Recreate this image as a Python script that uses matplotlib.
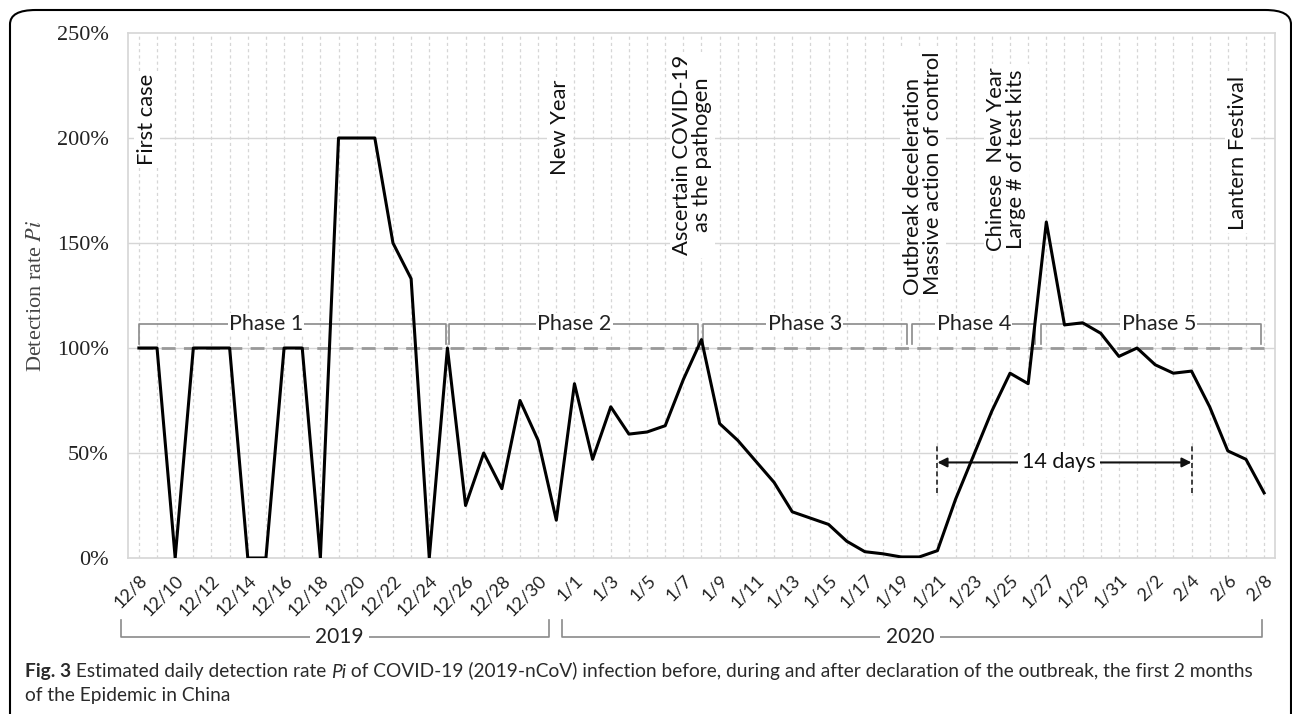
import numpy as np
import matplotlib.pyplot as plt
from matplotlib.patches import FancyBboxPatch

plt.rcParams['mathtext.fontset'] = 'stix'

# daily detection rate Pi (%), 12/8/2019 .. 2/8/2020
rate = [100, 100, 0, 100, 100, 100, 0, 0, 100, 100, 0, 200, 200, 200, 150, 133,
        0, 100, 25, 50, 33, 75, 56, 18, 83, 47, 72, 59, 60, 63, 85, 104,
        64, 56, 46, 36, 22, 19, 16, 8, 3, 2, 0.5, 0.5, 3.5, 28, 49, 70,
        88, 83, 160, 111, 112, 107, 96, 100, 92, 88, 89, 72, 51, 47, 31]

tick_labels = ['12/8', '12/10', '12/12', '12/14', '12/16', '12/18', '12/20',
               '12/22', '12/24', '12/26', '12/28', '12/30', '1/1', '1/3', '1/5',
               '1/7', '1/9', '1/11', '1/13', '1/15', '1/17', '1/19', '1/21',
               '1/23', '1/25', '1/27', '1/29', '1/31', '2/2', '2/4', '2/6', '2/8']

phase_names = ['Phase 1', 'Phase 2', 'Phase 3', 'Phase 4', 'Phase 5']
phase_start = [0, 17.1, 31.1, 42.6, 49.7]
phase_end = [16.9, 30.8, 42.3, 49.4, 61.85]
phase_label_x = [7, 24, 36.7, 46, 56.2]

events = ['First case', 'New Year', 'Ascertain COVID-19\nas the pathogen',
          'Outbreak deceleration\nMassive action of control',
          'Chinese  New Year\nLarge # of test kits', 'Lantern Festival']
event_x = [0.45, 23.2, 30.5, 43.2, 47.8, 60.55]
event_y = [209, 205, 192, 183, 190, 193]
event_align = ['center', 'center', 'center', 'left', 'center', 'center']

W, H = 1292, 714
fig = plt.figure(figsize=(W / 100, H / 100), dpi=100)
ax = fig.add_axes([128 / W, 1 - 558 / H, (1275 - 128) / W, (558 - 33) / H])

days = np.arange(len(rate))
sans = ['Lato', 'DejaVu Sans']
grid_c = '#d6d6d6'

# grid
for d in days:
    ax.axvline(d, color=grid_c, lw=0.9, ls=(0, (2.5, 2.5)), zorder=0)
for v in [50, 100, 150, 200]:
    ax.axhline(v, color=grid_c, lw=1, zorder=0)

ax.axhline(100, xmin=0.01, xmax=0.99, color='#999999', lw=2, ls=(0, (5, 3)), zorder=1)

# phases
for name, s, e, lx in zip(phase_names, phase_start, phase_end, phase_label_x):
    ax.plot([s, s, e, e], [102, 111.5, 111.5, 102], color='#8a8a8a', lw=1.2, zorder=2)
    ax.text(lx, 111.5, name, ha='center', va='center', fontsize=15.5, family=sans,
            color='#222222', bbox=dict(fc='white', ec='none', pad=1), zorder=3)

# events
for txt, x, y, al in zip(events, event_x, event_y, event_align):
    ax.text(x, y, txt, rotation=90, ha='center', va='center', multialignment=al,
            fontsize=15.8, family=sans, color='#111111', linespacing=1.0,
            bbox=dict(fc='white', ec='none', pad=2), zorder=3)

# 14 days
ax.plot([44, 44], [31, 55], color='#222222', lw=1.2, ls=(0, (3, 2)), zorder=3)
ax.plot([58, 58], [31, 55], color='#222222', lw=1.2, ls=(0, (3, 2)), zorder=3)
ax.annotate('', xy=(44, 45.5), xytext=(58, 45.5),
            arrowprops=dict(arrowstyle='<|-|>', color='#111111', lw=1.5,
                            mutation_scale=14, shrinkA=0, shrinkB=0), zorder=3)
ax.text(50.7, 45.5, '14 days', ha='center', va='center', fontsize=15.5, family=sans,
        color='#111111', bbox=dict(fc='white', ec='none', pad=3), zorder=4)

ax.plot(days, rate, color='black', lw=2.2, zorder=5)

ax.set_xlim(-0.6, 62.6)
ax.set_ylim(0, 250)
ax.set_yticks([0, 50, 100, 150, 200, 250])
ax.set_yticklabels(['0%', '50%', '100%', '150%', '200%', '250%'],
                   family='Liberation Serif', fontsize=16, color='#222222')
ax.set_xticks(days[::2])
ax.set_xticklabels(tick_labels, rotation=45, ha='right', rotation_mode='anchor',
                   family=sans, fontsize=13, color='#222222')
ax.tick_params(axis='both', length=0)
ax.tick_params(axis='y', pad=14)
ax.tick_params(axis='x', pad=10)
ax.set_ylabel(r'Detection rate $Pi$', family='Liberation Serif', fontsize=16,
              color='#444444')
ax.yaxis.set_label_coords(-0.0715, 0.5)
for sp in ax.spines.values():
    sp.set_color(grid_c)
    sp.set_linewidth(1.2)

# year brackets
tr = ax.get_xaxis_transform()
for s, e, lx, lab in [(-1.0, 22.6, 11.05, '2019'), (23.3, 61.9, 42.5, '2020')]:
    ax.plot([s, s, e, e], [-0.118, -0.151, -0.151, -0.118], transform=tr,
            color='#8a8a8a', lw=1.2, clip_on=False)
    ax.text(lx, -0.151, lab, transform=tr, ha='center', va='center', fontsize=15,
            family=sans, color='#222222', bbox=dict(fc='white', ec='none', pad=4))

# caption
cap = dict(fontsize=13.8, color='#2a2a2a', family=sans)
t = fig.text(25 / W, 1 - 672 / H, 'Fig. 3', fontweight='bold', va='center', **cap)
t = ax.annotate(' Estimated daily detection rate ', xy=(1, 0), xycoords=t,
                va='bottom', annotation_clip=False, **cap)
t = ax.annotate('Pi', xy=(1, 0), xycoords=t, va='bottom', style='italic',
                annotation_clip=False, **cap)
ax.annotate(' of COVID-19 (2019-nCoV) infection before, during and after declaration '
            'of the outbreak, the first 2 months', xy=(1, 0), xycoords=t,
            va='bottom', annotation_clip=False, **cap)
fig.text(25 / W, 1 - 695 / H, 'of the Epidemic in China', va='center', **cap)

frame = FancyBboxPatch((10 / W, -0.1), (1281 / W), 1.1 - 10 / H,
                       boxstyle='round,pad=0,rounding_size=0.02',
                       transform=fig.transFigure, fc='none', ec='black', lw=1.5)
fig.patches.append(frame)

fig.savefig('out.png', dpi=100)
